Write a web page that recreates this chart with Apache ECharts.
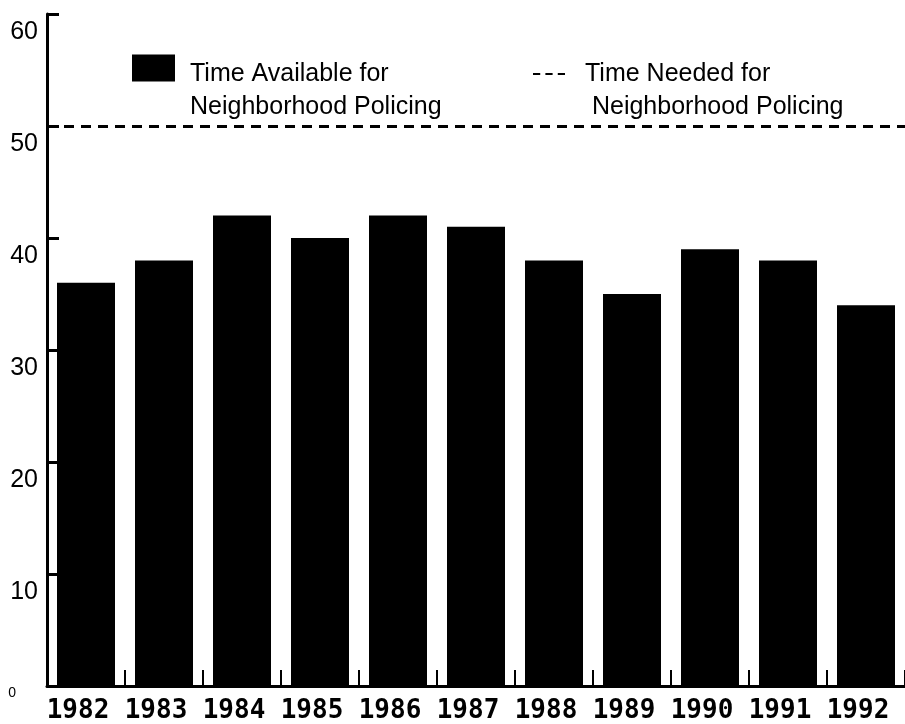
<!DOCTYPE html>
<html>
<head>
<meta charset="utf-8">
<script src="https://cdn.jsdelivr.net/npm/echarts@6/dist/echarts.min.js"></script>
<style>html,body{margin:0;padding:0;background:#fff;}#c{width:905px;height:724px;}</style>
</head>
<body>
<div id="c"></div>
<script>
const years = ['1982','1983','1984','1985','1986','1987','1988','1989','1990','1991','1992'];
const timeAvailable = [36, 38, 42, 40, 42, 41, 38, 35, 39, 38, 34];
const timeNeeded = 50;
const yTicks = [0, 10, 20, 30, 40, 50, 60];

const nameAvail = 'Time Available for\nNeighborhood Policing';
const nameNeeded = 'Time Needed for\n Neighborhood Policing';

function legendText(name) {
  return '{g| }\n' + name.split('\n').map(s => '{t|' + s + '}').join('\n');
}
function tStyle(padLeft) {
  return { fontFamily: 'Liberation Sans', fontSize: 25, lineHeight: 33, color: '#000', padding: [0, 0, 0, padLeft] };
}

const chart = echarts.init(document.getElementById('c'));
chart.setOption({
  backgroundColor: '#fff',
  animation: false,
  grid: { left: 47, right: -4, top: 14, bottom: 37 },
  legend: [
    {
      data: [nameAvail], left: 127, top: 25, itemWidth: 43, itemHeight: 27,
      icon: 'rect', selectedMode: false, formatter: legendText,
      textStyle: { color: '#000', rich: { g: { fontSize: 10, lineHeight: 46 }, t: tStyle(10) } }
    },
    {
      data: [{ name: nameNeeded, icon: 'path://M0,0h7v2h-7z M12,0h7v2h-7z M24,0h7v2h-7z' }],
      left: 528, top: 31, itemWidth: 32, itemHeight: 3, selectedMode: false,
      itemStyle: { color: '#000' }, formatter: legendText,
      textStyle: { color: '#000', rich: { g: { fontSize: 10, lineHeight: 33 }, t: tStyle(15) } }
    }
  ],
  xAxis: {
    type: 'category', data: years,
    axisLine: { lineStyle: { color: '#000', width: 3 } },
    axisTick: { show: true, interval: 0, inside: true, length: 16, lineStyle: { color: '#000', width: 2 } },
    axisLabel: {
      interval: 0, margin: 12, verticalAlign: 'top', color: '#000',
      fontFamily: 'DejaVu Sans Mono', fontWeight: 'bold', fontSize: 26,
      padding: [0, 16, 0, 0]
    }
  },
  yAxis: {
    type: 'value', min: yTicks[0], max: yTicks[yTicks.length - 1], interval: 10,
    splitLine: { show: false },
    axisLine: { show: true, lineStyle: { color: '#000', width: 3 } },
    axisTick: { show: true, inside: true, length: 12, lineStyle: { color: '#000', width: 3 } },
    axisLabel: {
      margin: 9, verticalAlign: 'top', color: '#000',
      formatter: v => v === 0 ? '{s|0}' : '{b|' + v + '}',
      rich: {
        b: { fontFamily: 'Liberation Sans', fontSize: 25, color: '#000', padding: [6, 0, 0, 0] },
        s: { fontFamily: 'Liberation Sans', fontSize: 14, color: '#000', padding: [0, 22, 0, 0] }
      }
    }
  },
  series: [
    {
      name: nameAvail, type: 'bar', data: timeAvailable, barWidth: 58,
      itemStyle: { color: '#000' }
    },
    {
      name: nameNeeded, type: 'line', data: [], itemStyle: { color: '#000' },
      markLine: {
        silent: true, symbol: ['none', 'none'], label: { show: false },
        lineStyle: { color: '#000', width: 3, type: [10, 7] },
        data: [{ yAxis: timeNeeded }]
      }
    }
  ]
});
</script>
</body>
</html>
